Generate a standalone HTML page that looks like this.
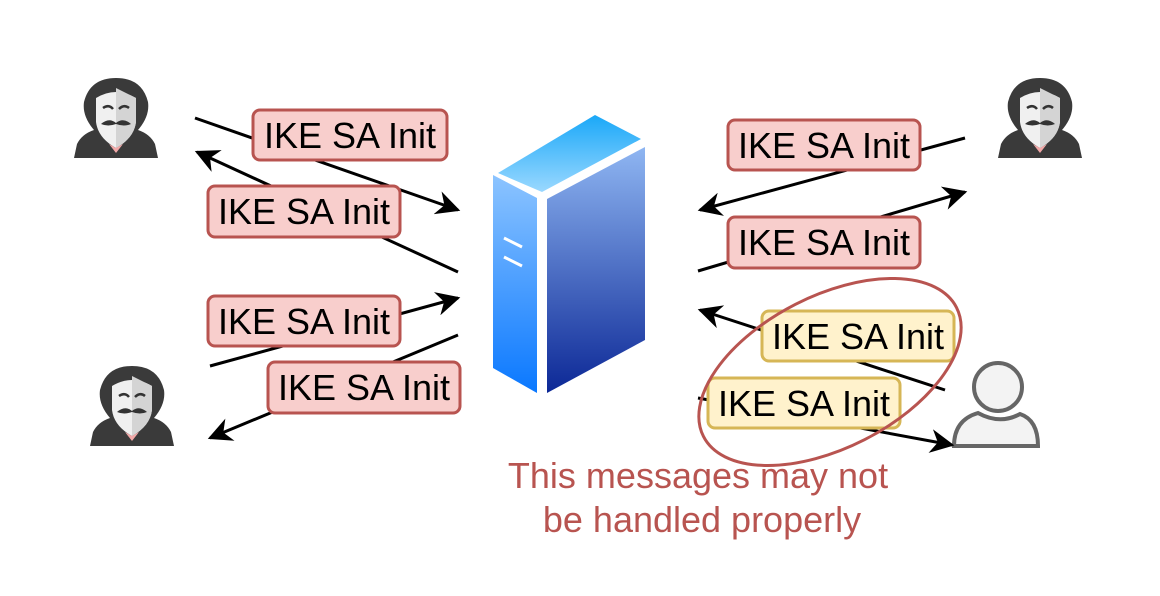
<!DOCTYPE html>
<html><head><meta charset="utf-8"><style>html,body{margin:0;padding:0;background:#fff;}svg{display:block}</style></head>
<body>
<svg width="1160" height="596" viewBox="0 0 1160 596" xmlns="http://www.w3.org/2000/svg" font-family="Liberation Sans, sans-serif">
<defs>
<linearGradient id="gl" x1="0" y1="0" x2="0" y2="1"><stop offset="0" stop-color="#8cc4ff"/><stop offset="1" stop-color="#0a78ff"/></linearGradient>
<linearGradient id="gr" x1="0" y1="0" x2="0" y2="1"><stop offset="0" stop-color="#8fb6f2"/><stop offset="1" stop-color="#0c2896"/></linearGradient>
<linearGradient id="gt" x1="0" y1="1" x2="0" y2="0"><stop offset="0" stop-color="#9ad8ff"/><stop offset="1" stop-color="#1aa8f8"/></linearGradient>
<marker id="ah" viewBox="0 0 10 10" refX="9" refY="5" markerWidth="8" markerHeight="8" orient="auto" markerUnits="strokeWidth"><path d="M0,0 L10,5 L0,10 L3,5 z" fill="#000"/></marker>
<g id="hacker">
<path d="M2,82 L5,68 Q10,58 22,54 Q10,40 12,26 Q18,2 44,2 Q70,2 76,26 Q78,40 66,54 Q78,58 83,68 L86,82 Z" fill="#3a3a3a"/>
<path d="M24,22 Q44,10 64,22 L64,46 Q62,62 44,72 Q26,62 24,46 Z" fill="#f0f0f0"/>
<path d="M44,12 L64,22 L64,46 Q62,62 44,72 Z" fill="#d4d4d4"/>
<path d="M31,32 q6,-4 10,1 M47,33 q5,-5 10,-1" stroke="#333" stroke-width="2.5" fill="none"/>
<path d="M29,48 q8,-7 15,-1 q7,-6 15,1 q-7,3 -15,0 q-8,3 -15,0z" fill="#333"/>
<path d="M37,68 L44,77 L51,68 L44,72 Z" fill="#f2a8a8"/>
</g>
</defs>
<use href="#hacker" x="72" y="76"/>
<use href="#hacker" x="996" y="76"/>
<use href="#hacker" x="88" y="364"/>

<g>
<polygon points="498,173 595,115 641,139 542,192" fill="url(#gt)"/>
<polygon points="493,175 537,198 537,393 493,368" fill="url(#gl)"/>
<polygon points="547,199 645,147 645,340 547,393" fill="url(#gr)"/>
<path d="M504,238 L522,247 M504,257 L522,266" stroke="#fff" stroke-width="3"/>
</g>

<g fill="#f3f3f3" stroke="#666" stroke-width="4">
<circle cx="998" cy="387" r="24"/>
<path d="M954,446 Q954,420 978,413 Q1000,425 1020,414 Q1038,420 1038,446 Z"/>
</g>

<g stroke="#000" stroke-width="3" fill="none" marker-end="url(#ah)">
<line x1="195" y1="118" x2="458" y2="210"/>
<line x1="458" y1="272" x2="197" y2="152"/>
<line x1="210" y1="366" x2="458" y2="298"/>
<line x1="458" y1="335" x2="210" y2="438"/>
<line x1="965" y1="138" x2="700" y2="210"/>
<line x1="698" y1="271" x2="965" y2="192"/>
<line x1="945" y1="390" x2="700" y2="310"/>
<line x1="698" y1="398" x2="952" y2="445"/>
</g>

<g font-size="36" text-anchor="middle">
<g><rect x="253" y="110" width="194" height="50" rx="7" fill="#f8cecc" stroke="#b85450" stroke-width="3"/><text x="350" y="148">IKE SA Init</text></g>
<g><rect x="208" y="186" width="192" height="51" rx="7" fill="#f8cecc" stroke="#b85450" stroke-width="3"/><text x="304" y="224">IKE SA Init</text></g>
<g><rect x="208" y="296" width="192" height="50" rx="7" fill="#f8cecc" stroke="#b85450" stroke-width="3"/><text x="304" y="334">IKE SA Init</text></g>
<g><rect x="268" y="362" width="192" height="51" rx="7" fill="#f8cecc" stroke="#b85450" stroke-width="3"/><text x="364" y="400">IKE SA Init</text></g>
<g><rect x="728" y="120" width="192" height="50" rx="7" fill="#f8cecc" stroke="#b85450" stroke-width="3"/><text x="824" y="158">IKE SA Init</text></g>
<g><rect x="728" y="217" width="192" height="51" rx="7" fill="#f8cecc" stroke="#b85450" stroke-width="3"/><text x="824" y="255">IKE SA Init</text></g>
<g><rect x="762" y="311" width="192" height="50" rx="7" fill="#fff2cc" stroke="#d6b656" stroke-width="3"/><text x="858" y="349">IKE SA Init</text></g>
<g><rect x="708" y="378" width="192" height="50" rx="7" fill="#fff2cc" stroke="#d6b656" stroke-width="3"/><text x="804" y="416">IKE SA Init</text></g>
</g>

<ellipse cx="830" cy="372" rx="142" ry="76" transform="rotate(-27 830 372)" fill="none" stroke="#b85450" stroke-width="3"/>

<g font-size="36" fill="#b85450" text-anchor="middle">
<text x="698" y="488">This messages may not</text>
<text x="702" y="532">be handled properly</text>
</g>
</svg>
</body></html>
